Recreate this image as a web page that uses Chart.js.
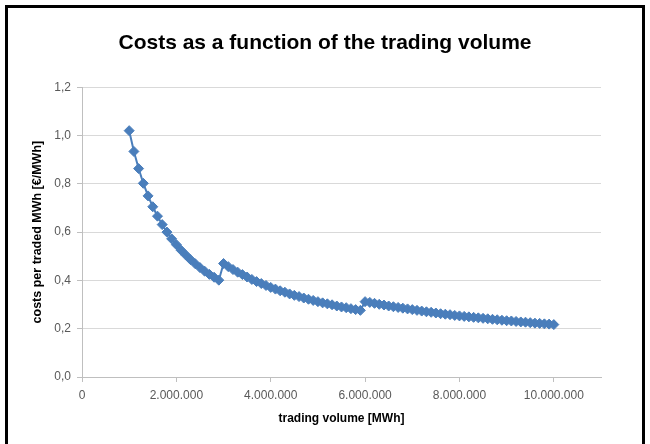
<!DOCTYPE html>
<html>
<head>
<meta charset="utf-8">
<title>Costs as a function of the trading volume</title>
<script src="https://cdn.jsdelivr.net/npm/chart.js@4.4.1/dist/chart.umd.min.js"></script>
<style>
    body { margin: 0; background: #fff; }
    #wrap { position: relative; width: 650px; height: 444px; overflow: hidden; }
    #frame {
        position: absolute; left: 5px; top: 5px; width: 634px; height: 460px;
        border: 3px solid #000; border-bottom: none;
    }
    #costChart { position: absolute; left: 0; top: 0; }
</style>
</head>
<body>
<div id="wrap">
    <div id="frame"></div>
    <canvas id="costChart" width="650" height="444"></canvas>
</div>
<script>
// 交易量 (MWh)
const volumes = [
    1000000, 1100000, 1200000, 1300000, 1400000, 1500000, 1600000, 1700000, 1800000, 1900000,
    2000000, 2100000, 2200000, 2300000, 2400000, 2500000, 2600000, 2700000, 2800000, 2900000,
    3000000, 3100000, 3200000, 3300000, 3400000, 3500000, 3600000, 3700000, 3800000, 3900000,
    4000000, 4100000, 4200000, 4300000, 4400000, 4500000, 4600000, 4700000, 4800000, 4900000,
    5000000, 5100000, 5200000, 5300000, 5400000, 5500000, 5600000, 5700000, 5800000, 5900000,
    6000000, 6100000, 6200000, 6300000, 6400000, 6500000, 6600000, 6700000, 6800000, 6900000,
    7000000, 7100000, 7200000, 7300000, 7400000, 7500000, 7600000, 7700000, 7800000, 7900000,
    8000000, 8100000, 8200000, 8300000, 8400000, 8500000, 8600000, 8700000, 8800000, 8900000,
    9000000, 9100000, 9200000, 9300000, 9400000, 9500000, 9600000, 9700000, 9800000, 9900000,
    10000000
];

// 每 MWh 成本 (€/MWh)
const costs = [
    1.020, 0.934, 0.863, 0.802, 0.750, 0.705, 0.666, 0.631, 0.600, 0.572,
    0.548, 0.525, 0.505, 0.486, 0.469, 0.453, 0.438, 0.425, 0.413, 0.401,
    0.470, 0.457, 0.445, 0.434, 0.424, 0.414, 0.404, 0.395, 0.387, 0.379,
    0.371, 0.364, 0.357, 0.351, 0.344, 0.338, 0.333, 0.327, 0.322, 0.317,
    0.312, 0.307, 0.303, 0.299, 0.294, 0.290, 0.287, 0.283, 0.279, 0.276,
    0.312, 0.309, 0.305, 0.301, 0.298, 0.294, 0.291, 0.288, 0.285, 0.282,
    0.279, 0.276, 0.273, 0.270, 0.268, 0.265, 0.262, 0.260, 0.258, 0.255,
    0.253, 0.251, 0.249, 0.247, 0.245, 0.243, 0.241, 0.239, 0.237, 0.235,
    0.233, 0.232, 0.230, 0.228, 0.227, 0.225, 0.223, 0.222, 0.220, 0.219,
    0.217
];

// 坐标轴刻度
const xTicks = [0, 2000000, 4000000, 6000000, 8000000, 10000000];
const xMax = 11000000;
const yTicks = [0, 0.2, 0.4, 0.6, 0.8, 1.0, 1.2];

const points = volumes.map((v, i) => ({ x: v, y: costs[i] }));

function formatThousands(v) {
    return String(Math.round(v)).replace(/\B(?=(\d{3})+(?!\d))/g, '.');
}

const ctx = document.getElementById('costChart');
new Chart(ctx, {
    type: 'scatter',
    data: {
        datasets: [{
            data: points,
            showLine: true,
            borderColor: '#4a7ebb',
            borderWidth: 2,
            pointStyle: 'rectRot',
            pointRadius: 5,
            pointBackgroundColor: '#4a7ebb',
            pointBorderColor: '#4a7ebb',
            pointBorderWidth: 1
        }]
    },
    options: {
        responsive: false,
        animation: false,
        layout: {
            padding: { left: 0, right: 0, top: 0, bottom: 0 }
        },
        plugins: {
            legend: { display: false },
            tooltip: { enabled: false },
            title: {
                display: true,
                text: 'Costs as a function of the trading volume',
                color: '#000',
                font: { family: 'Liberation Sans', size: 21, weight: 'bold' },
                padding: { top: 31, bottom: 31 }
            }
        },
        scales: {
            x: {
                type: 'linear',
                min: 0,
                max: xMax,
                afterFit: (scale) => { scale.height = 67; },
                afterBuildTicks: (scale) => {
                    scale.ticks = xTicks.map(v => ({ value: v }));
                },
                grid: {
                    drawOnChartArea: false,
                    drawTicks: true,
                    tickLength: 5,
                    tickColor: '#bfbfbf'
                },
                border: { display: true, color: '#bfbfbf' },
                ticks: {
                    maxRotation: 0,
                    autoSkip: false,
                    padding: 6,
                    color: '#595959',
                    font: { family: 'Liberation Sans', size: 12 },
                    callback: (v) => formatThousands(v)
                },
                title: {
                    display: true,
                    text: 'trading volume [MWh]',
                    color: '#000',
                    font: { family: 'Liberation Sans', size: 12, weight: 'bold' },
                    padding: { top: 0, bottom: 18 }
                }
            },
            y: {
                min: 0,
                max: yTicks[yTicks.length - 1],
                afterFit: (scale) => { scale.width = 82; },
                afterBuildTicks: (scale) => {
                    scale.ticks = yTicks.map(v => ({ value: v }));
                },
                grid: {
                    color: '#d9d9d9',
                    drawTicks: true,
                    tickLength: 5,
                    tickColor: '#bfbfbf'
                },
                border: { display: true, color: '#bfbfbf' },
                ticks: {
                    padding: 6,
                    color: '#595959',
                    font: { family: 'Liberation Sans', size: 12 },
                    callback: (v) => v.toFixed(1).replace('.', ',')
                },
                title: {
                    display: true,
                    text: 'costs per traded MWh [€/MWh]',
                    color: '#000',
                    font: { family: 'Liberation Sans', size: 12.5, weight: 'bold' },
                    padding: { top: 30, bottom: 0 }
                }
            },
            // 右侧留白，让绘图区右边界在 601px
            yRight: {
                position: 'right',
                min: 0,
                max: yTicks[yTicks.length - 1],
                afterFit: (scale) => { scale.width = 49; },
                grid: { display: false },
                border: { display: false },
                ticks: { display: false }
            }
        }
    }
});
</script>
</body>
</html>
